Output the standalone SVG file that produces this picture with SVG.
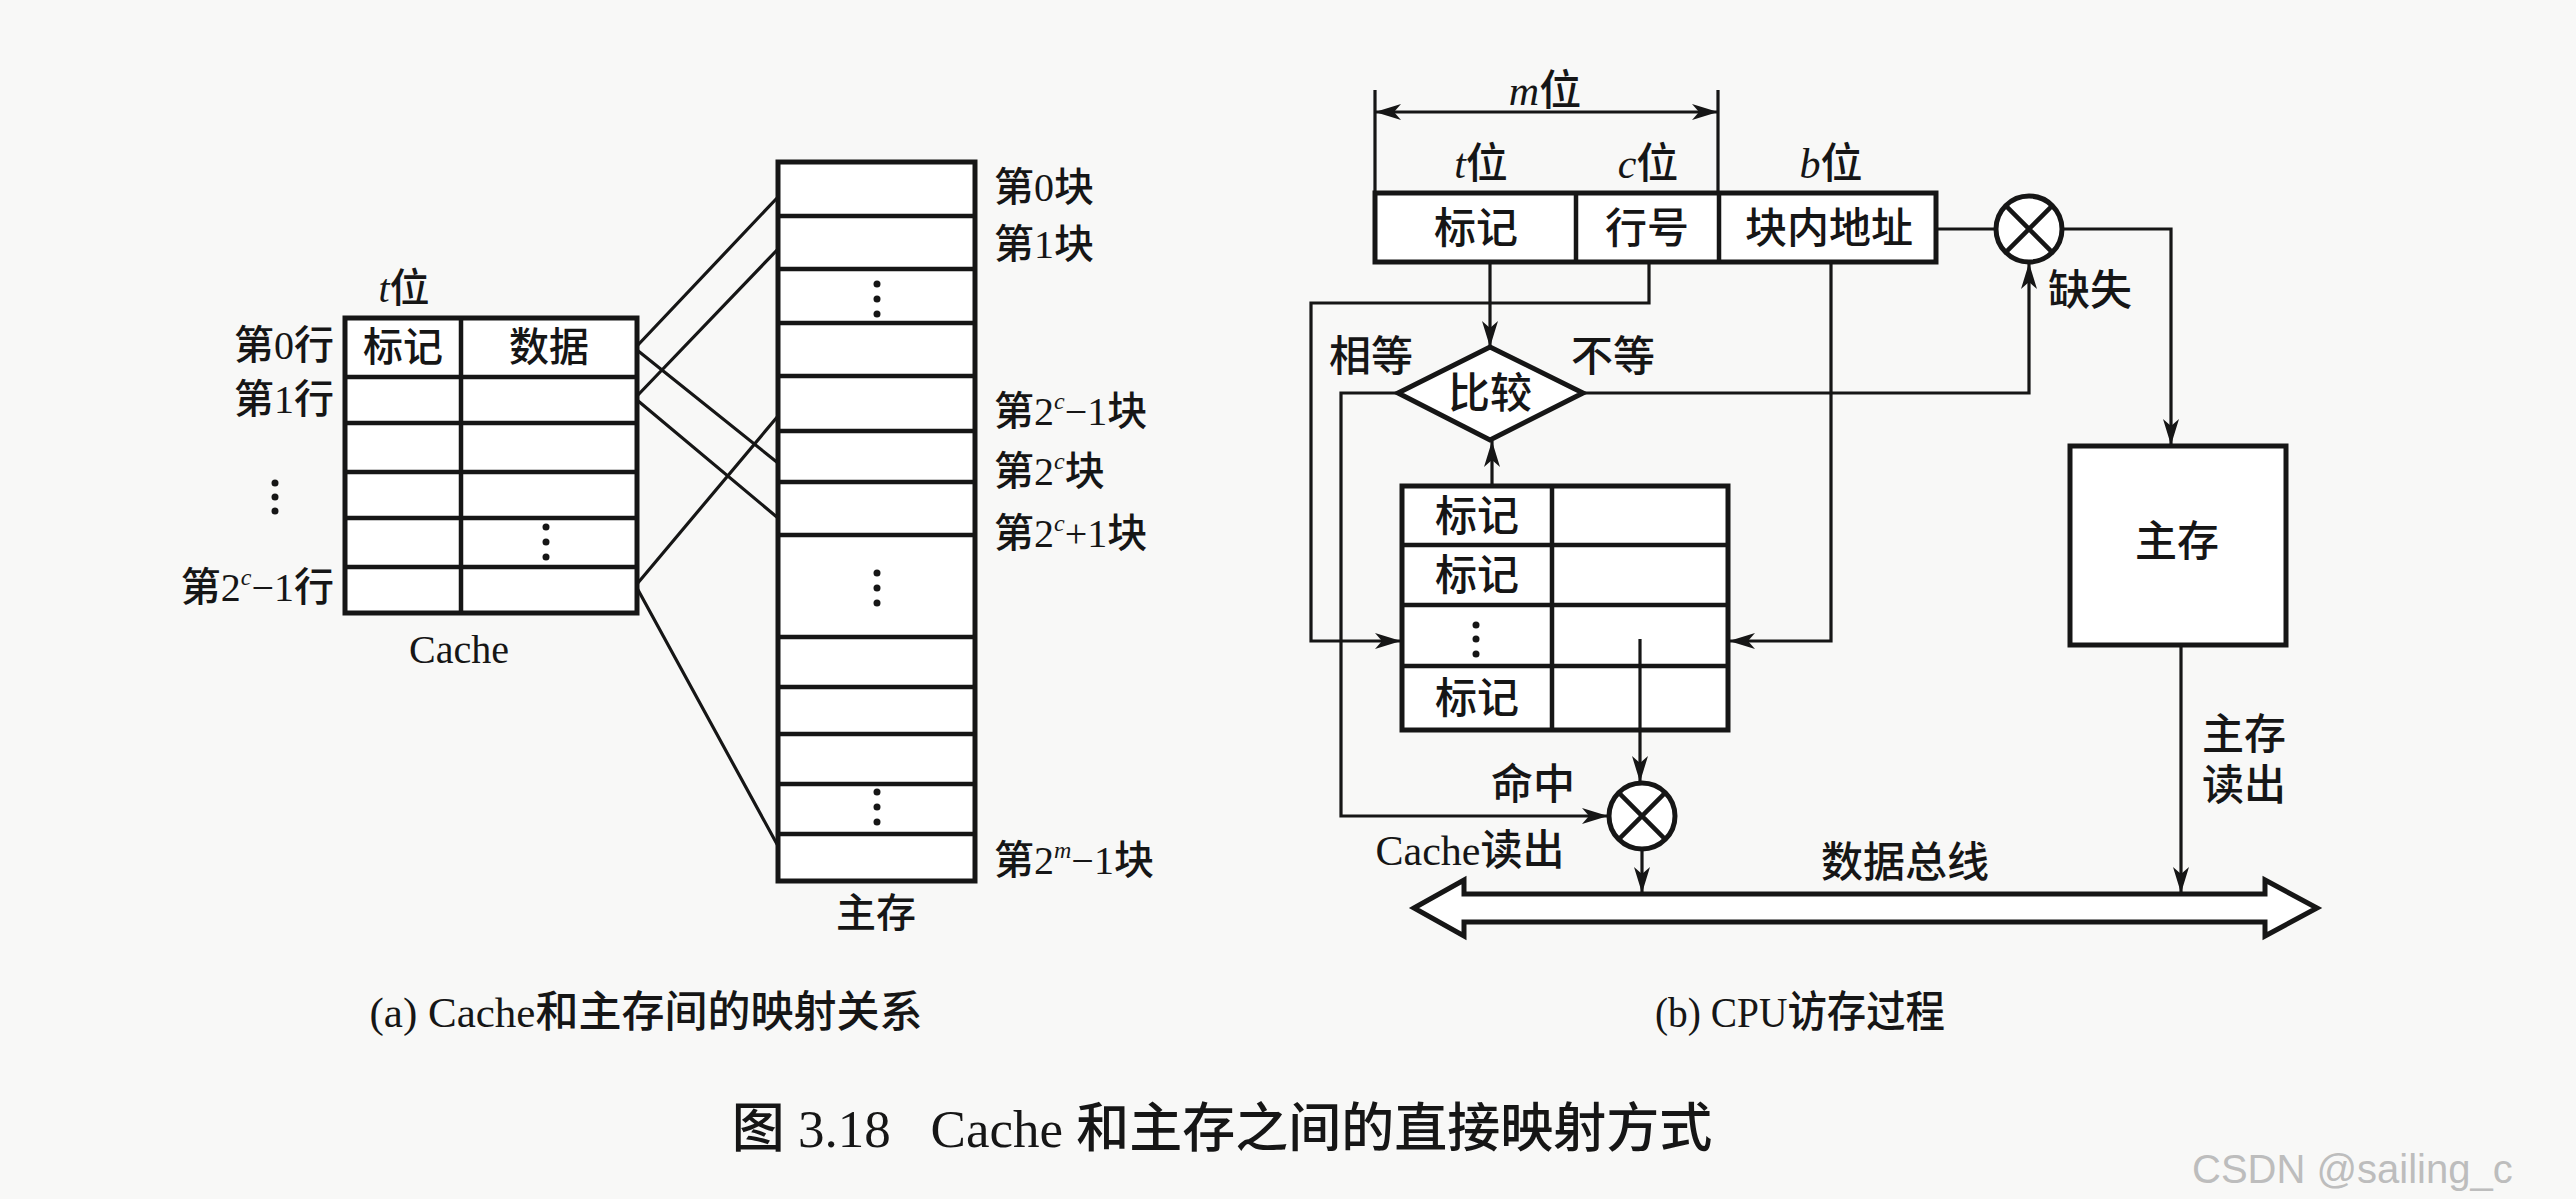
<svg xmlns="http://www.w3.org/2000/svg" width="2576" height="1199" viewBox="0 0 2576 1199">
<style>
.t{font-family:"Liberation Serif","Noto Sans CJK SC",serif;fill:#161616;font-weight:500;}
.l{font-size:40px;}
.r{font-size:42px;}
.i{font-style:italic;}
.box{fill:#fff;stroke:#161616;stroke-width:5;}
.sep{stroke:#161616;stroke-width:4.5;fill:none;}
.ln{stroke:#161616;stroke-width:3.2;fill:none;}
.dot{fill:#161616;}
</style>
<defs>
<marker id="ah" viewBox="-30 -10 32 20" refX="0" refY="0" markerWidth="32" markerHeight="20" markerUnits="userSpaceOnUse" orient="auto-start-reverse">
<path d="M0,0 L-26,-8 L-19,0 L-26,8 Z" fill="#161616"/>
</marker>
</defs>
<rect width="2576" height="1199" fill="#f8f8f7"/>

<!-- (a) Cache table -->
<g id="cache-a">
<rect class="box" x="345" y="318" width="292" height="295"/>
<path class="sep" d="M345,377H637M345,423H637M345,472H637M345,518H637M345,567H637M461,318V613"/>
<text class="t l" x="404" y="302" text-anchor="middle"><tspan class="i">t</tspan>位</text>
<text class="t l" x="403" y="361" text-anchor="middle">标记</text>
<text class="t l" x="549" y="361" text-anchor="middle">数据</text>
<text class="t l" x="334" y="359" text-anchor="end">第0行</text>
<text class="t l" x="334" y="413" text-anchor="end">第1行</text>
<circle class="dot" cx="275" cy="483" r="3.5"/><circle class="dot" cx="275" cy="497" r="3.5"/><circle class="dot" cx="275" cy="511" r="3.5"/>
<circle class="dot" cx="546" cy="527" r="3.5"/><circle class="dot" cx="546" cy="542" r="3.5"/><circle class="dot" cx="546" cy="557" r="3.5"/>
<text class="t l" x="334" y="601" text-anchor="end">第2<tspan class="i" font-size="24" dy="-16">c</tspan><tspan dy="16">−1行</tspan></text>
<text class="t l" x="459" y="663" text-anchor="middle">Cache</text>
</g>

<!-- (a) Main memory -->
<g id="memory-a">
<rect class="box" x="778" y="162" width="197" height="719"/>
<path class="sep" d="M778,216H975M778,269H975M778,323H975M778,376H975M778,431H975M778,482H975M778,535H975M778,637H975M778,687H975M778,734H975M778,784H975M778,834H975"/>
<circle class="dot" cx="877" cy="284" r="3.5"/><circle class="dot" cx="877" cy="299" r="3.5"/><circle class="dot" cx="877" cy="314" r="3.5"/>
<circle class="dot" cx="877" cy="573" r="3.5"/><circle class="dot" cx="877" cy="588" r="3.5"/><circle class="dot" cx="877" cy="603" r="3.5"/>
<circle class="dot" cx="877" cy="792" r="3.5"/><circle class="dot" cx="877" cy="807" r="3.5"/><circle class="dot" cx="877" cy="822" r="3.5"/>
<text class="t l" x="994" y="201">第0块</text>
<text class="t l" x="994" y="258">第1块</text>
<text class="t l" x="994" y="425">第2<tspan class="i" font-size="24" dy="-16">c</tspan><tspan dy="16">−1块</tspan></text>
<text class="t l" x="994" y="485">第2<tspan class="i" font-size="24" dy="-16">c</tspan><tspan dy="16">块</tspan></text>
<text class="t l" x="994" y="547">第2<tspan class="i" font-size="24" dy="-16">c</tspan><tspan dy="16">+1块</tspan></text>
<text class="t l" x="994" y="874">第2<tspan class="i" font-size="24" dy="-16">m</tspan><tspan dy="16">−1块</tspan></text>
<text class="t l" x="876" y="927" text-anchor="middle">主存</text>
</g>

<!-- (b) address -->
<g id="address">
<rect class="box" x="1375" y="193" width="561" height="69"/>
<path class="sep" d="M1576,193V262M1719,193V262"/>
<text class="t r" x="1476" y="243" text-anchor="middle">标记</text>
<text class="t r" x="1647" y="243" text-anchor="middle">行号</text>
<text class="t r" x="1829" y="243" text-anchor="middle">块内地址</text>
<text class="t r" x="1481" y="178" text-anchor="middle"><tspan class="i">t</tspan>位</text>
<text class="t r" x="1648" y="178" text-anchor="middle"><tspan class="i">c</tspan>位</text>
<text class="t r" x="1831" y="178" text-anchor="middle"><tspan class="i">b</tspan>位</text>
<text class="t r" x="1545" y="105" text-anchor="middle"><tspan class="i">m</tspan>位</text>
</g>

<g id="compare">
<path class="box" d="M1490,347L1583,393L1490,440L1398,393Z"/>
<text class="t r" x="1490" y="408" text-anchor="middle">比较</text>
</g>

<g id="cache-b">
<rect class="box" x="1402" y="486" width="326" height="244"/>
<path class="sep" d="M1402,545H1728M1402,605H1728M1402,666H1728M1552,486V730"/>
<text class="t r" x="1477" y="531" text-anchor="middle">标记</text>
<text class="t r" x="1477" y="590" text-anchor="middle">标记</text>
<circle class="dot" cx="1476" cy="625" r="3.5"/><circle class="dot" cx="1476" cy="639" r="3.5"/><circle class="dot" cx="1476" cy="654" r="3.5"/>
<text class="t r" x="1477" y="713" text-anchor="middle">标记</text>
</g>

<g id="hit-gate">
<circle class="box" cx="1642" cy="816" r="33" stroke-width="4"/>
<path class="sep" d="M1618.7,792.7L1665.3,839.3M1665.3,792.7L1618.7,839.3"/>
</g>

<g id="miss-gate">
<circle class="box" cx="2029" cy="229" r="33" stroke-width="4"/>
<path class="sep" d="M2005.7,205.7L2052.3,252.3M2052.3,205.7L2005.7,252.3"/>
</g>

<g id="memory-b">
<rect class="box" x="2070" y="446" width="216" height="199"/>
<text class="t r" x="2177" y="556" text-anchor="middle">主存</text>
</g>

<g id="bus">
<path class="box" stroke-width="5" stroke-linejoin="miter" d="M1414,908L1464,880V894H2265V880L2317,908L2265,936V922H1464V936Z"/>
<text class="t r" x="1905" y="877" text-anchor="middle">数据总线</text>
</g>

<!-- connectors -->
<g id="connectors">
<path class="ln" d="M637,346L778,197M637,350L778,463M637,396L778,249M637,400L778,518M637,584L778,416M637,588L778,846"/>
<path class="ln" d="M1375,90V193M1718,90V193"/>
<path class="ln" d="M1375,112H1718" marker-start="url(#ah)" marker-end="url(#ah)"/>
<path class="ln" d="M1490,262V347" marker-end="url(#ah)"/>
<path class="ln" d="M1492,486V441" marker-end="url(#ah)"/>
<path class="ln" d="M1649,262V303H1311V641H1401" marker-end="url(#ah)"/>
<path class="ln" d="M1398,393H1341V816H1608" marker-end="url(#ah)"/>
<path class="ln" d="M1583,393H2029V263" marker-end="url(#ah)"/>
<path class="ln" d="M1831,262V641H1729" marker-end="url(#ah)"/>
<path class="ln" d="M1640,639V782" marker-end="url(#ah)"/>
<path class="ln" d="M1642,849V893" marker-end="url(#ah)"/>
<path class="ln" d="M1936,229H1996"/>
<path class="ln" d="M2062,229H2171V445" marker-end="url(#ah)"/>
<path class="ln" d="M2181,645V893" marker-end="url(#ah)"/>
</g>

<g id="labels">
<text class="t r" x="1371" y="371" text-anchor="middle">相等</text>
<text class="t r" x="1613" y="371" text-anchor="middle">不等</text>
<text class="t r" x="1533" y="799" text-anchor="middle">命中</text>
<text class="t r" x="1470" y="865" text-anchor="middle">Cache读出</text>
<text class="t r" x="2090" y="305" text-anchor="middle">缺失</text>
<text class="t r" x="2244" y="749" text-anchor="middle">主存</text>
<text class="t r" x="2244" y="800" text-anchor="middle">读出</text>
</g>

<g id="captions">
<text class="t" font-size="43" x="646" y="1027" text-anchor="middle">(a) Cache和主存间的映射关系</text>
<text class="t" font-size="43" x="1800" y="1027" text-anchor="middle" textLength="290" lengthAdjust="spacingAndGlyphs">(b) CPU访存过程</text>
<text class="t" font-size="53" x="1222" y="1147" text-anchor="middle" xml:space="preserve">图 3.18   Cache 和主存之间的直接映射方式</text>
<text font-family="Liberation Sans, sans-serif" font-size="40" fill="#bdbdbd" x="2192" y="1183">CSDN @sailing_c</text>
</g>
</svg>
